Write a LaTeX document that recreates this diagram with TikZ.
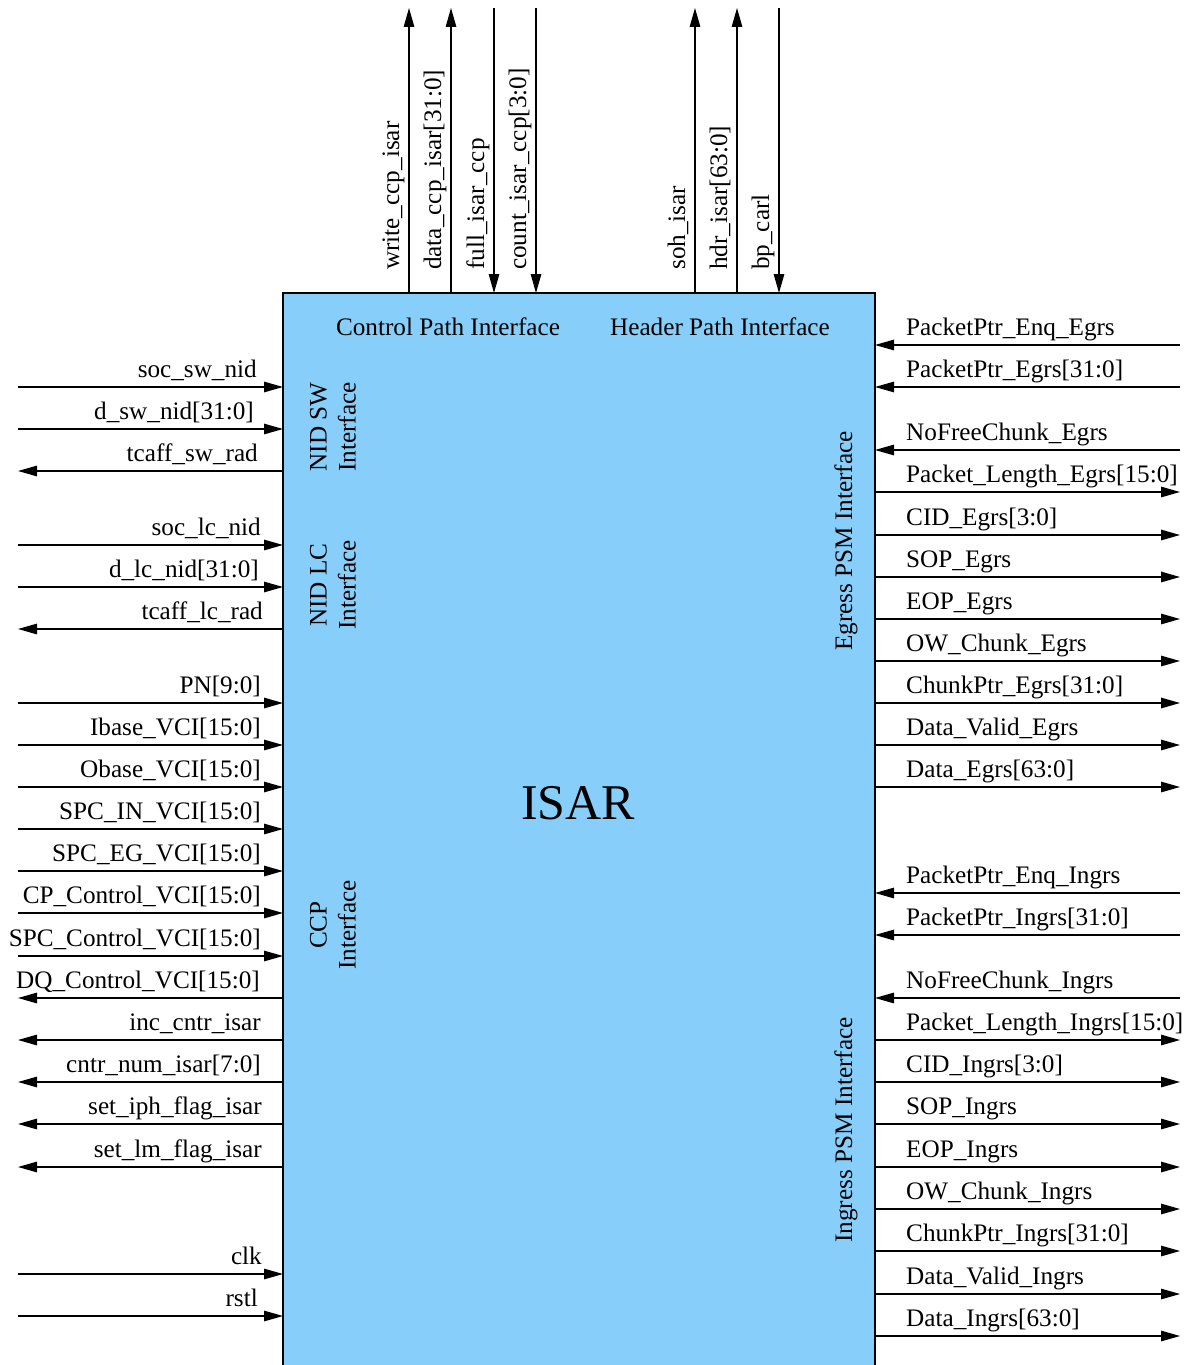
\documentclass[tikz,border=0pt]{standalone}
\usepackage{fontspec}
\setmainfont{Liberation Serif}
\usetikzlibrary{arrows.meta}
\definecolor{boxblue}{RGB}{135,206,250}
\tikzset{
  sig/.style={line width=1.3bp, -{Triangle[length=19bp,width=10.5bp]}},
  lbl/.style={font=\fontsize{25.2bp}{29bp}\selectfont, inner sep=0pt},
  iflbl/.style={lbl, align=center, rotate=90},
  boxline/.style={line width=2.6bp},
}
\begin{document}
\begin{tikzpicture}[x=1bp,y=-1bp]
\useasboundingbox (0,0) rectangle (1187,1365);
% block
\fill[boxblue] (283,293) rectangle (875,1380);
\draw[boxline] (283,1380) -- (283,293) -- (875,293) -- (875,1380);
\node[font=\fontsize{50bp}{56bp}\selectfont, inner sep=0pt] (isar) at (578,803) {ISAR};
% interface labels
\node[lbl, anchor=base] (cpi) at (448,335) {Control Path Interface};
\node[lbl, anchor=base] (hpi) at (720,335) {Header Path Interface};
\node[iflbl] (nidsw) at (333,427) {NID SW\\Interface};
\node[iflbl] (nidlc) at (333,585) {NID LC\\Interface};
\node[iflbl] (ccp) at (333,925) {CCP\\Interface};
\node[iflbl] (egr) at (846,541) {Egress PSM Interface};
\node[iflbl] (ingr) at (846,1130) {Ingress PSM Interface};
% left inputs
\foreach \y/\n/\t/\x in {387/a/soc\_sw\_nid/257, 429/b/d\_sw\_nid[31:0]/254,
  545/d/soc\_lc\_nid/261, 587/e/d\_lc\_nid[31:0]/259, 703/g/PN[9:0]/261,
  745/h/Ibase\_VCI[15:0]/261, 787/i/Obase\_VCI[15:0]/261, 829/j/SPC\_IN\_VCI[15:0]/261,
  871/k/SPC\_EG\_VCI[15:0]/261, 913/l/CP\_Control\_VCI[15:0]/261,
  956/m/SPC\_Control\_VCI[15:0]/261, 1274/s/clk/262, 1316/t/rstl/258}{
  \coordinate (Lf\n) at (18,\y);
  \coordinate (Lb\n) at (283,\y);
  \draw[sig] (Lf\n) -- (Lb\n);
  \node[lbl, anchor=base east] (Lt\n) at (\x,\y-10) {\t};
}
% left outputs
\foreach \y/\n/\t/\x in {471/c/tcaff\_sw\_rad/258, 629/f/tcaff\_lc\_rad/263,
  998/n/DQ\_Control\_VCI[15:0]/260, 1040/o/inc\_cntr\_isar/261,
  1082/p/cntr\_num\_isar[7:0]/261, 1124/q/set\_iph\_flag\_isar/262,
  1167/r/set\_lm\_flag\_isar/262}{
  \coordinate (Lf\n) at (18,\y);
  \coordinate (Lb\n) at (283,\y);
  \draw[sig] (Lb\n) -- (Lf\n);
  \node[lbl, anchor=base east] (Lt\n) at (\x,\y-10) {\t};
}
% right inputs
\foreach \y/\n/\t in {345/a/PacketPtr\_Enq\_Egrs, 387/b/PacketPtr\_Egrs[31:0],
  450/c/NoFreeChunk\_Egrs, 893/l/PacketPtr\_Enq\_Ingrs,
  935/m/PacketPtr\_Ingrs[31:0], 998/n/NoFreeChunk\_Ingrs}{
  \coordinate (Rf\n) at (1180,\y);
  \coordinate (Rb\n) at (875,\y);
  \draw[sig] (Rf\n) -- (Rb\n);
  \node[lbl, anchor=base west] (Rt\n) at (906,\y-10) {\t};
}
% right outputs
\foreach \y/\n/\t in {492/d/Packet\_Length\_Egrs[15:0], 535/e/CID\_Egrs[3:0],
  577/f/SOP\_Egrs, 619/g/EOP\_Egrs, 661/h/OW\_Chunk\_Egrs,
  703/i/ChunkPtr\_Egrs[31:0], 745/j/Data\_Valid\_Egrs, 787/k/Data\_Egrs[63:0],
  1040/o/Packet\_Length\_Ingrs[15:0], 1082/p/CID\_Ingrs[3:0], 1124/q/SOP\_Ingrs,
  1167/r/EOP\_Ingrs, 1209/s/OW\_Chunk\_Ingrs, 1251/t/ChunkPtr\_Ingrs[31:0],
  1294/u/Data\_Valid\_Ingrs, 1336/v/Data\_Ingrs[63:0]}{
  \coordinate (Rf\n) at (1180,\y);
  \coordinate (Rb\n) at (875,\y);
  \draw[sig] (Rb\n) -- (Rf\n);
  \node[lbl, anchor=base west] (Rt\n) at (906,\y-10) {\t};
}
% top outputs
\foreach \x/\n/\t in {409/a/write\_ccp\_isar, 451/b/data\_ccp\_isar[31:0],
  695/e/soh\_isar, 737/f/hdr\_isar[63:0]}{
  \coordinate (Tf\n) at (\x,8);
  \coordinate (Tb\n) at (\x,293);
  \draw[sig] (Tb\n) -- (Tf\n);
  \node[lbl, anchor=base west, rotate=90] (Tt\n) at (\x-10,270) {\t};
}
% top inputs
\foreach \x/\n/\t in {494/c/full\_isar\_ccp, 536/d/count\_isar\_ccp[3:0],
  779/g/bp\_carl}{
  \coordinate (Tf\n) at (\x,8);
  \coordinate (Tb\n) at (\x,293);
  \draw[sig] (Tf\n) -- (Tb\n);
  \node[lbl, anchor=base west, rotate=90] (Tt\n) at (\x-10,270) {\t};
}
\end{tikzpicture}
\end{document}
